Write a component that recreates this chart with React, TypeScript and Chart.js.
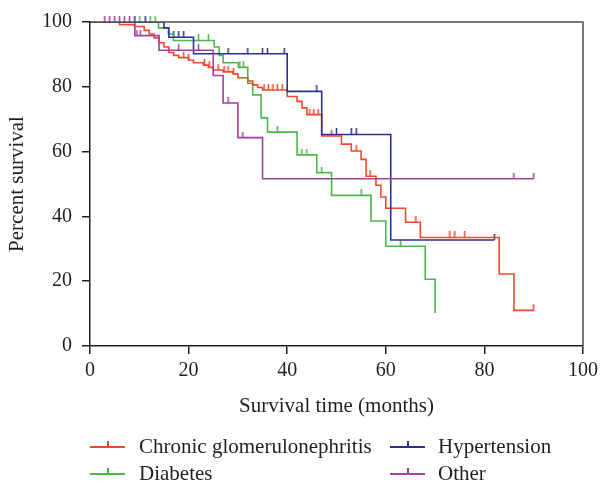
import React, { useEffect, useRef } from "react";
import { Chart, registerables } from "chart.js";

Chart.register(...registerables);

const SERIF = "'Liberation Serif', 'DejaVu Serif', serif";
const TEXT = "#231f20";

const xTicks = [0, 20, 40, 60, 80, 100];
const yTicks = [0, 20, 40, 60, 80, 100];
const xTitle = "Survival time (months)";
const yTitle = "Percent survival";

const seriesNames = ["Chronic glomerulonephritis", "Hypertension", "Diabetes", "Other"];
const seriesColors = ["#ef4a2b", "#2e3192", "#4cb849", "#a2409c"];

// Chronic glomerulonephritis
const cgnTimes = [0, 6, 9, 11, 12, 13, 14, 15, 16, 17, 18, 20, 21, 23, 24, 25, 27, 29, 30, 32, 33, 34, 35, 40, 42, 43, 44, 47, 51, 53, 55, 56, 58, 59, 60, 64, 67, 83, 86, 90];
const cgnSurv = [100, 99.2, 98.6, 97.4, 96.3, 95.1, 93.6, 92.3, 90.6, 89.7, 89.0, 88.2, 87.4, 86.7, 86.0, 85.2, 84.6, 84.0, 82.8, 81.8, 80.6, 79.8, 79.0, 77.0, 75.5, 73.5, 71.4, 64.8, 62.3, 60.2, 57.6, 52.4, 49.6, 46.0, 42.5, 38.2, 33.5, 22.2, 11.0, 11.0];
const cgnCensor = [19, 20, 23.2, 24.2, 26, 27.2, 28, 29.1, 35.3, 36.2, 37.1, 38.0, 39.0, 44.6, 45.4, 46.3, 49, 54, 56.8, 66.1, 73, 74, 76, 90];

// Hypertension
const hypTimes = [0, 15, 16, 21, 40, 47, 61, 82];
const hypSurv = [100, 98.2, 95.3, 90.2, 78.6, 65.3, 32.7, 32.7];
const hypCensor = [9.1, 11.2, 17, 18, 19, 28, 32, 35, 36, 39.4, 46, 50, 53, 54, 82];

// Diabetes
const diaTimes = [0, 13.9, 15.9, 16.9, 25.2, 26.2, 27, 30.1, 32, 33, 34.7, 36, 42, 46, 49, 57, 60, 68, 70];
const diaSurv = [100, 98.2, 96.3, 94.3, 92.3, 89.7, 87.4, 86.0, 81.1, 77.5, 70.4, 66.0, 59.0, 53.5, 46.5, 38.6, 30.8, 20.6, 10.2];
const diaCensor = [10.1, 12.2, 13.2, 22, 24, 30.4, 31.1, 38, 43, 44, 47, 55, 63];

// Other
const othTimes = [0, 9.1, 14, 25, 27, 30, 35, 90];
const othSurv = [100, 95.8, 91.3, 83.5, 75, 64.3, 51.6, 51.6];
const othCensor = [3, 4, 5, 6, 7, 8, 9.5, 10.2, 18, 22, 28, 31, 86, 90];

const allTimes = [cgnTimes, hypTimes, diaTimes, othTimes];
const allSurv = [cgnSurv, hypSurv, diaSurv, othSurv];
const allCensor = [cgnCensor, hypCensor, diaCensor, othCensor];

function survAt(times: number[], surv: number[], t: number) {
  let v = surv[0];
  for (let i = 0; i < times.length; i++) if (times[i] <= t) v = surv[i];
  return v;
}

function tickImage(color: string) {
  const c = document.createElement("canvas");
  c.width = 3;
  c.height = 12;
  const ctx = c.getContext("2d")!;
  ctx.strokeStyle = color;
  ctx.lineWidth = 1.5;
  ctx.beginPath();
  ctx.moveTo(1.5, 0);
  ctx.lineTo(1.5, 6);
  ctx.stroke();
  return c;
}

const boxPlugin = {
  id: "topRightBorder",
  afterDraw(chart: any) {
    const { ctx, chartArea: a } = chart;
    ctx.save();
    ctx.strokeStyle = "#4d4d4d";
    ctx.lineWidth = 1.5;
    ctx.beginPath();
    ctx.moveTo(a.left, a.top);
    ctx.lineTo(a.right, a.top);
    ctx.lineTo(a.right, a.bottom);
    ctx.stroke();
    ctx.restore();
  },
};

export default function App() {
  const ref = useRef<HTMLCanvasElement>(null);

  useEffect(() => {
    document.body.style.margin = "0";
    const order = [3, 1, 0, 2];
    const lineSets: any[] = order.map((i) => ({
      label: seriesNames[i],
      data: allTimes[i].map((t, k) => ({ x: t, y: allSurv[i][k] })),
      borderColor: seriesColors[i],
      borderWidth: 1.6,
      stepped: "before",
      pointRadius: 0,
      fill: false,
      tension: 0,
    }));
    const censorSets: any[] = order.map((i) => ({
      label: seriesNames[i] + " censored",
      data: allCensor[i].map((t) => ({ x: t, y: survAt(allTimes[i], allSurv[i], t) })),
      showLine: false,
      pointStyle: tickImage(seriesColors[i]),
      pointRadius: 3,
      clip: false,
    }));

    const axisCommon = {
      grid: { drawOnChartArea: false, drawTicks: true, tickLength: 8, color: TEXT, lineWidth: 1.5 },
      border: { display: true, color: TEXT, width: 1.5 },
    };

    const chart = new Chart(ref.current!, {
      type: "line",
      data: { datasets: [...lineSets, ...censorSets] },
      plugins: [boxPlugin],
      options: {
        animation: false,
        responsive: false,
        devicePixelRatio: 1,
        events: [],
        layout: { padding: { left: 0, right: 0, top: 18, bottom: 66 } },
        plugins: { legend: { display: false }, tooltip: { enabled: false } },
        scales: {
          x: {
            type: "linear",
            min: 0,
            max: 100,
            ...axisCommon,
            afterBuildTicks: (s: any) => {
              s.ticks = xTicks.map((v) => ({ value: v }));
            },
            afterFit: (s: any) => {
              s.height = 73;
              s.paddingLeft = 0;
              s.paddingRight = 17;
            },
            ticks: { color: TEXT, font: { family: SERIF, size: 20 }, padding: 5, maxRotation: 0, autoSkip: false },
            title: { display: true, text: xTitle, color: TEXT, font: { family: SERIF, size: 21 }, padding: { top: 4, bottom: 0 } },
          },
          y: {
            type: "linear",
            min: 0,
            max: 100,
            ...axisCommon,
            afterBuildTicks: (s: any) => {
              s.ticks = yTicks.map((v) => ({ value: v }));
            },
            afterFit: (s: any) => {
              s.width = 90;
            },
            ticks: { color: TEXT, font: { family: SERIF, size: 20 }, padding: 10, autoSkip: false },
            title: { display: true, text: yTitle, color: TEXT, font: { family: SERIF, size: 21 }, padding: { top: 5, bottom: 0 } },
          },
        },
      } as any,
    });
    return () => chart.destroy();
  }, []);

  const legendItems = [
    { i: 0, x: 90, tx: 139, y: 447 },
    { i: 1, x: 390, tx: 438, y: 447 },
    { i: 2, x: 90, tx: 139, y: 474 },
    { i: 3, x: 390, tx: 438, y: 474 },
  ];

  return (
    <div style={{ position: "relative", width: 600, height: 485, background: "#fff", fontFamily: SERIF }}>
      <canvas ref={ref} width={600} height={485} style={{ display: "block", width: 600, height: 485 }} />
      {legendItems.map((it) => (
        <React.Fragment key={it.i}>
          <div style={{ position: "absolute", left: it.x, top: it.y - 0.75, width: 35, height: 1.5, background: seriesColors[it.i] }} />
          <div style={{ position: "absolute", left: it.x + 17, top: it.y - 6, width: 1.5, height: 6, background: seriesColors[it.i] }} />
          <div style={{ position: "absolute", left: it.tx, top: it.y - 10.6, fontSize: 21, lineHeight: "21px", color: TEXT, whiteSpace: "nowrap" }}>
            {seriesNames[it.i]}
          </div>
        </React.Fragment>
      ))}
    </div>
  );
}
